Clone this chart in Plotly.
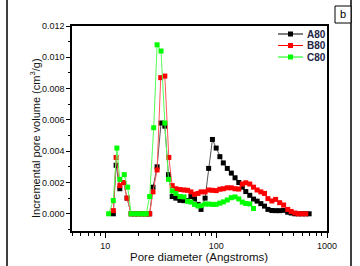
import plotly.graph_objects as go

# ---- data ----
a80_d = [11.8, 12.5, 13.5, 14.6, 15.7, 17.1, 18.4, 19.7, 21.2, 22.6, 24.0, 25.1, 26.9, 29.3, 31.8, 34.4,
         37.1, 40.1, 43.3, 47.1, 51.2, 55.1, 59.2, 63.8, 68.6, 73.0, 79.4, 85.5, 92.5, 100, 108, 116, 126,
         137, 148, 160, 172, 185, 201, 217, 234, 253, 273, 293, 318, 344, 374, 406, 442, 475, 512, 551,
         596, 644, 690]
a80_v = [0.0, 0.0031, 0.0016, 0.0020, 0.0010, 0.0, 0.0, 0.0, 0.0, 0.0, 0.0, 0.0, 0.0017, 0.0030, 0.0058, 0.0056,
         0.0025, 0.0011, 0.0010, 0.00086, 0.00084, 0.00085, 0.0011, 0.00095, 0.0006, 0.00028, 0.0010, 0.0029,
         0.00475, 0.0042, 0.00365, 0.00325, 0.0029, 0.0026, 0.0023, 0.0020, 0.0017, 0.00142, 0.00118, 0.00094,
         0.00081, 0.00065, 0.00049, 0.00028, 0.00021, 0.0002, 0.0002, 0.00022, 0.0001, 0.00005, 0.0, 0.0,
         0.0, 0.0, 0.0]

b80_d = [11.8, 12.5, 13.5, 14.6, 15.7, 17.1, 18.4, 19.7, 21.2, 22.6, 24.0, 25.1, 26.9, 29.3, 31.6, 34.4,
         37.4, 40.1, 43.3, 47.1, 51.2, 55.1, 59.2, 63.8, 68.6, 73.0, 79.4, 85.5, 92.5, 100, 108, 116, 126,
         137, 148, 160, 172, 185, 201, 217, 234, 253, 273, 293, 318, 344, 374, 406, 442, 475, 512, 551,
         596, 644]
b80_v = [0.0002, 0.0036, 0.0018, 0.0020, 0.0010, 0.0, 0.0, 0.0, 0.0, 0.0, 0.0, 0.0, 0.0014, 0.0028, 0.0087, 0.0088,
         0.0036, 0.0018, 0.0016, 0.00155, 0.00152, 0.0015, 0.0014, 0.00125, 0.0013, 0.0014, 0.0014, 0.00152,
         0.0015, 0.00148, 0.00157, 0.0016, 0.00166, 0.00166, 0.0016, 0.00158, 0.0019, 0.00198, 0.0019, 0.0017,
         0.00152, 0.0014, 0.0013, 0.00097, 0.00082, 0.00092, 0.00071, 0.00056, 0.00028, 0.00015, 0.00005, 0.0,
         0.0, 0.0]

c80_d = [10.7, 11.8, 12.7, 13.5, 14.8, 15.9, 17.1, 18.4, 19.7, 21.2, 22.6, 23.4, 25.1, 27.3, 29.3, 31.8,
         34.4, 37.1, 40.1, 43.3, 47.1, 51.2, 55.1, 59.2, 63.8, 68.6, 73.0, 79.4, 85.5, 92.5, 100, 108, 116,
         126, 137, 148, 160, 172, 185, 201, 217]
c80_v = [0.0, 0.00085, 0.0042, 0.0022, 0.0025, 0.0017, 0.0, 0.0, 0.0, 0.0, 0.0, 0.0, 0.0011, 0.0055, 0.0108, 0.0104,
         0.0058, 0.0022, 0.00146, 0.0013, 0.0011, 0.00108, 0.0008, 0.00075, 0.0006, 0.0005, 0.00052, 0.00062,
         0.00062, 0.0006, 0.0006, 0.00068, 0.00076, 0.00088, 0.00103, 0.00108, 0.00095, 0.00075, 0.00066,
         0.00063, 0.00034]

names = ["A80", "B80", "C80"]
colors = ["#000000", "#ff0000", "#00ff00"]
line_colors = ["#555555", "#ff5555", "#55ff55"]

x_tickvals = [10, 100, 1000]
y_tickvals = [0.000, 0.002, 0.004, 0.006, 0.008, 0.010, 0.012]

# ---- figure geometry ----
W, H = 360, 266
L, R, T, B = 72, 33, 26, 35
PW, PH = W - L - R, H - T - B


def px(xp):
    return (xp - L) / PW


def py(yp):
    return (H - B - yp) / PH


fig = go.Figure()
series = [(a80_d, a80_v), (b80_d, b80_v), (c80_d, c80_v)]
for (d, v), n, c, lc in zip(series, names, colors, line_colors):
    fig.add_trace(go.Scatter(
        x=d, y=v, name=n, mode="lines+markers",
        line=dict(color=lc, width=1),
        marker=dict(symbol="square", size=5, color=c, line=dict(width=0)),
        showlegend=False,
    ))

font = "Liberation Sans, Arial, sans-serif"
minor_x = [5, 6, 7, 8, 9, 20, 30, 40, 50, 60, 70, 80, 90, 200, 300, 400, 500, 600, 700, 800, 900]

fig.update_layout(
    width=W, height=H,
    margin=dict(l=L, r=R, t=T, b=B, pad=0, autoexpand=False),
    paper_bgcolor="white", plot_bgcolor="white",
    font=dict(family=font, size=9, color="#111111"),
    xaxis=dict(
        type="log", range=[0.699, 3.0], automargin=False,
        tickvals=x_tickvals, ticktext=[str(v) for v in x_tickvals],
        ticks="outside", ticklen=5, tickwidth=1, tickcolor="black",
        minor=dict(tickvals=minor_x, ticks="outside", ticklen=3, tickwidth=1, tickcolor="black"),
        showline=True, linecolor="black", linewidth=1.5, mirror=True,
        showgrid=False, zeroline=False,
        tickfont=dict(size=9),
    ),
    yaxis=dict(
        range=[-0.0011, 0.012], automargin=False,
        tickvals=y_tickvals, tickformat=".3f",
        ticks="outside", ticklen=4, tickwidth=1, tickcolor="black",
        minor=dict(dtick=0.001, tick0=0, ticks="outside", ticklen=2, tickwidth=1, tickcolor="black"),
        showline=True, linecolor="black", linewidth=1.5, mirror=True,
        showgrid=False, zeroline=False,
        tickfont=dict(size=9),
    ),
)

shapes = []
annotations = []
# axis titles placed to match the reference
annotations.append(dict(text="Pore diameter (Angstroms)", xref="paper", yref="paper",
                        x=px(199), y=py(257), xanchor="center", yanchor="middle", showarrow=False,
                        font=dict(size=11.5, family=font, color="#111111")))
annotations.append(dict(text="Incremental pore volume (cm<sup>3</sup>/g)", xref="paper", yref="paper",
                        x=px(35), y=py(138), xanchor="center", yanchor="middle", showarrow=False,
                        textangle=-90, font=dict(size=11, family=font, color="#111111")))
# manual legend
for i, (n, c, lc) in enumerate(zip(names, colors, line_colors)):
    yy = 34 + 11.5 * i
    shapes.append(dict(type="line", xref="paper", yref="paper",
                       x0=px(278), x1=px(303), y0=py(yy), y1=py(yy),
                       line=dict(color=c, width=1)))
    shapes.append(dict(type="rect", xref="paper", yref="paper",
                       x0=px(288), x1=px(293), y0=py(yy - 2.5), y1=py(yy + 2.5),
                       fillcolor=c, line=dict(width=0)))
    annotations.append(dict(text="<b>%s</b>" % n, xref="paper", yref="paper",
                            x=px(305), y=py(yy), xanchor="left", yanchor="middle",
                            showarrow=False, font=dict(size=10, family=font, color="#222244")))

# outer frame lines and panel label
shapes.append(dict(type="line", xref="paper", yref="paper", x0=px(7), x1=px(7), y0=py(0), y1=py(266),
                   line=dict(color="black", width=1.5)))
shapes.append(dict(type="line", xref="paper", yref="paper", x0=px(351), x1=px(351), y0=py(0), y1=py(266),
                   line=dict(color="black", width=1.5)))
shapes.append(dict(type="rect", xref="paper", yref="paper", x0=px(335), x1=px(351), y0=py(6), y1=py(23),
                   line=dict(color="black", width=1), fillcolor="white"))
annotations.append(dict(text="b", xref="paper", yref="paper", x=px(343), y=py(14.5),
                        xanchor="center", yanchor="middle", showarrow=False,
                        font=dict(size=11, family=font, color="black")))

fig.update_layout(shapes=shapes, annotations=annotations)
fig.write_html("out.html", config={"displayModeBar": False},
               post_script="document.body.style.margin='0';document.body.style.padding='0';")
